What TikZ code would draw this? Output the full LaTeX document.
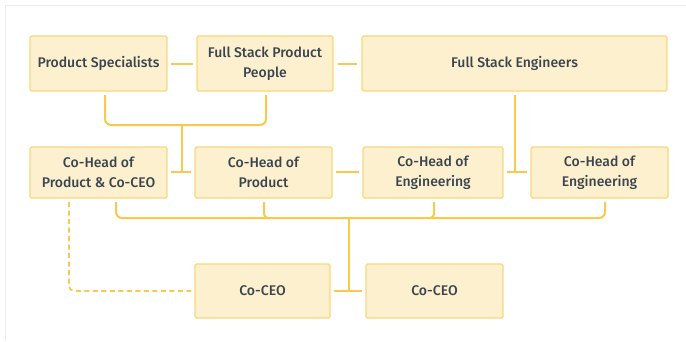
\documentclass[tikz,border=0pt]{standalone}
\usepackage{fontspec}
\setmainfont{Fira Sans Medium}
\definecolor{boxfill}{HTML}{FDF0CE}
\definecolor{boxline}{HTML}{F9D77A}
\definecolor{linkcol}{HTML}{F8C94A}
\definecolor{txtcol}{HTML}{3A4550}
\definecolor{framecol}{HTML}{EDEDED}
\begin{document}
\begin{tikzpicture}[x=1pt,y=-1pt,
  card/.style={draw=boxline, fill=boxfill, line width=1.3pt, rounded corners=1.5pt,
    text=txtcol, font=\fontsize{14}{20.5}\selectfont, align=center, inner sep=0pt},
  conn/.style={draw=linkcol, line width=2pt},
  dashconn/.style={draw=linkcol, line width=1.8pt, dashed, dash pattern=on 5pt off 3.5pt}]
\useasboundingbox (0,0) rectangle (686,341);
% page frame
\draw[framecol, line width=1pt] (5,341) -- (5,5) -- (686,5);

% top row
\node[card, minimum width=137pt, minimum height=55pt] (ps) at (98.5,63.5) {Product Specialists};
\node[card, minimum width=136pt, minimum height=55pt] (fspp) at (265,63.5) {Full Stack Product\\People};
\node[card, minimum width=305pt, minimum height=55pt] (fse) at (514.5,63.5) {Full Stack Engineers};

% middle row
\node[card, minimum width=137pt, minimum height=51pt] (hpc) at (98.5,172.5) {Co-Head of\\Product \& Co-CEO};
\node[card, minimum width=137pt, minimum height=51pt] (hp) at (263.5,172.5) {Co-Head of\\Product};
\node[card, minimum width=140pt, minimum height=51pt] (he1) at (433,172.5) {Co-Head of\\Engineering};
\node[card, minimum width=137pt, minimum height=51pt] (he2) at (599.5,172.5) {Co-Head of\\Engineering};

% bottom row
\node[card, minimum width=135pt, minimum height=54pt] (ceo1) at (262.5,291) {Co-CEO};
\node[card, minimum width=137pt, minimum height=54pt] (ceo2) at (434.5,291) {Co-CEO};

% peer links
\draw[conn, shorten <=3.5pt, shorten >=3.5pt] (ps.east |- 0,64) -- (fspp.west |- 0,64);
\draw[conn, shorten <=4pt, shorten >=4pt] (fspp.east |- 0,64) -- (fse.west |- 0,64);
\draw[conn, shorten <=3pt, shorten >=3pt] (hpc.east |- 0,172) -- (hp.west |- 0,172);
\draw[conn, shorten <=3pt, shorten >=3pt] (hp.east |- 0,172) -- (he1.west |- 0,172);
\draw[conn, shorten <=3pt, shorten >=3pt] (he1.east |- 0,172) -- (he2.west |- 0,172);
\draw[conn, shorten <=3pt, shorten >=3pt] (ceo1.east |- 0,291) -- (ceo2.west |- 0,291);

% product bracket
\coordinate (pa) at (105,95);
\coordinate (pb) at (266,95);
\draw[conn, rounded corners=6pt] (pa) -- (pa |- 0,125) -- (pb |- 0,125) -- (pb);
\coordinate (pj) at (182,125);
\draw[conn] (pj) -- (pj |- 0,171);

% engineering drop
\coordinate (ej) at (515,95);
\draw[conn] (ej) -- (ej |- 0,171);

% leadership bracket
\coordinate (la) at (116,202);
\coordinate (lb) at (264,202);
\coordinate (lc) at (434,202);
\coordinate (ld) at (605,202);
\draw[conn, rounded corners=6pt] (la) -- (la |- 0,218) -- (ld |- 0,218) -- (ld);
\draw[conn, rounded corners=4pt] (lb) -- (lb |- 0,218) -- ([xshift=6pt]lb |- 0,218);
\draw[conn, rounded corners=4pt] (lc) -- (lc |- 0,218) -- ([xshift=-6pt]lc |- 0,218);
\coordinate (lj) at (349,218);
\draw[conn] (lj) -- (lj |- 0,290);

% dashed link
\coordinate (da) at (69,202);
\draw[dashconn, rounded corners=5pt] (da) -- (da |- 0,291) -- ([xshift=-3pt]ceo1.west);
\end{tikzpicture}
\end{document}
